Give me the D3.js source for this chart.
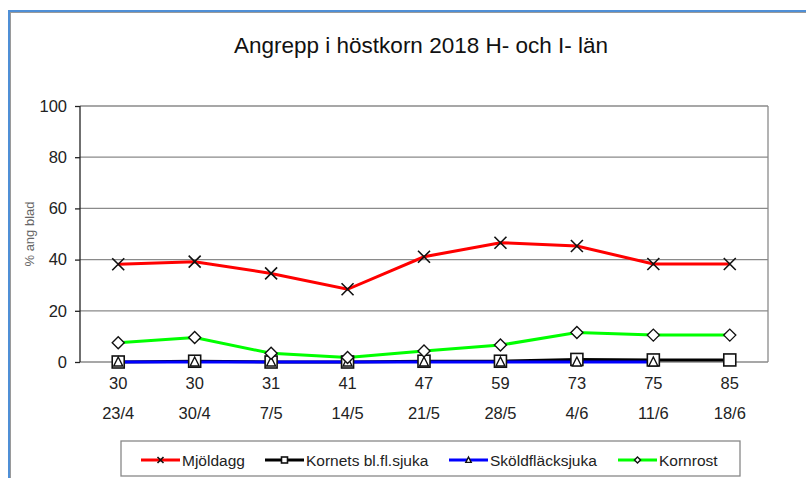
<!DOCTYPE html>
<html><head><meta charset="utf-8">
<script src="https://cdn.jsdelivr.net/npm/d3@7"></script>
<style>body{margin:0;background:#fff;}svg{display:block;font-family:"Liberation Sans",Arial,sans-serif;}</style>
</head><body>
<svg id="c" width="806" height="478"></svg>
<script>
const title = "Angrepp i höstkorn 2018 H- och I- län";
const yLabel = "% ang blad";
const stages = ["30","30","31","41","47","59","73","75","85"];
const dates = ["23/4","30/4","7/5","14/5","21/5","28/5","4/6","11/6","18/6"];
const yTicks = [0,20,40,60,80,100];
const mjoldagg = [38.2,39.2,34.6,28.4,41.1,46.6,45.3,38.3,38.3];
const kornets = [0,0.3,0,0,0.3,0.3,1,0.8,0.8];
const skold = [0,0,0,0,0,0,0,0,null];
const kornrost = [7.5,9.6,3.4,1.8,4.3,6.6,11.5,10.5,10.5];
const seriesNames = ["Mjöldagg","Kornets bl.fl.sjuka","Sköldfläcksjuka","Kornrost"];
const seriesColors = ["#ff0000","#000000","#0000ff","#00ff00"];
const seriesMarkers = ["x","square","triangle","diamond"];

const svg = d3.select("#c");
// frame
svg.append("rect").attr("x",10).attr("y",12).attr("width",800).attr("height",470).attr("fill","none").attr("stroke","#9a9a9a").attr("stroke-width",2);
svg.append("line").attr("x1",8).attr("x2",806).attr("y1",11).attr("y2",11).attr("stroke","#4f8fd6").attr("stroke-width",2);
svg.append("line").attr("x1",9).attr("x2",9).attr("y1",10).attr("y2",478).attr("stroke","#4f8fd6").attr("stroke-width",2);

const L=80,R=768,T=106,B=362;
const x = d3.scaleBand().domain(d3.range(stages.length)).range([L,R]);
const cx = i => x(i)+x.bandwidth()/2;
const y = d3.scaleLinear().domain([0,100]).range([B,T]);

svg.append("text").attr("x",421).attr("y",53).attr("text-anchor","middle").attr("font-size",22.5).attr("fill","#111").text(title);

// grid
svg.append("g").selectAll("line").data(yTicks.filter(d=>d>0)).join("line")
 .attr("x1",L).attr("x2",R).attr("y1",d=>y(d)).attr("y2",d=>y(d)).attr("stroke","#8a8a8a").attr("stroke-width",1.3);
svg.append("line").attr("x1",R).attr("x2",R).attr("y1",T).attr("y2",B).attr("stroke","#8a8a8a").attr("stroke-width",1.3);
svg.append("line").attr("x1",L).attr("x2",R).attr("y1",B).attr("y2",B).attr("stroke","#8a8a8a").attr("stroke-width",1.3);

// y axis
const ya = svg.append("g").attr("transform",`translate(${L},0)`).call(d3.axisLeft(y).tickValues(yTicks).tickSize(5).tickPadding(8));
ya.select(".domain").attr("stroke","#222").attr("stroke-width",1.3).attr("d",`M0,${T}V${B}`);
ya.selectAll(".tick line").attr("stroke","#222").attr("stroke-width",1.3);
ya.selectAll("text").attr("font-size",16.5).attr("fill","#222").attr("font-family","Liberation Sans, Arial, sans-serif");

svg.append("text").attr("transform",`translate(34,${234}) rotate(-90)`).attr("text-anchor","middle")
 .attr("font-size",13).attr("fill","#666").text(yLabel);

// x labels
const xa = svg.append("g");
xa.selectAll("text.s").data(stages).join("text").attr("class","s").attr("x",(d,i)=>cx(i)).attr("y",389)
 .attr("text-anchor","middle").attr("font-size",16.5).attr("fill","#222").text(d=>d);
xa.selectAll("text.d").data(dates).join("text").attr("class","d").attr("x",(d,i)=>cx(i)).attr("y",419)
 .attr("text-anchor","middle").attr("font-size",16.5).attr("fill","#222").text(d=>d);

function marker(g,type,px,py,s){
  if(type==="x"){
    g.append("path").attr("d",`M${px-s},${py-s}L${px+s},${py+s}M${px-s},${py+s}L${px+s},${py-s}`).attr("stroke","#111").attr("stroke-width",1.6).attr("fill","none");
  } else if(type==="square"){
    g.append("rect").attr("x",px-s).attr("y",py-s).attr("width",2*s).attr("height",2*s).attr("fill","#fff").attr("stroke","#111").attr("stroke-width",1.6);
  } else if(type==="triangle"){
    g.append("path").attr("d",`M${px},${py-s}L${px+s*0.9},${py+s*0.8}L${px-s*0.9},${py+s*0.8}Z`).attr("fill","#fff").attr("stroke","#111").attr("stroke-width",1.4);
  } else {
    g.append("path").attr("d",`M${px},${py-s}L${px+s},${py}L${px},${py+s}L${px-s},${py}Z`).attr("fill","#fff").attr("stroke","#111").attr("stroke-width",1.4);
  }
}

const allSeries = [mjoldagg,kornets,skold,kornrost];
const order = [1,2,3,0];
const line = d3.line().defined(d=>d!=null).x((d,i)=>cx(i)).y(d=>y(d));
order.forEach(k=>{
  svg.append("path").datum(allSeries[k]).attr("d",line).attr("fill","none").attr("stroke",seriesColors[k]).attr("stroke-width",3);
});
const msize = [6,6,5,6];
order.forEach(k=>{
  const g = svg.append("g");
  allSeries[k].forEach((v,i)=>{ if(v!=null) marker(g,seriesMarkers[k],cx(i),y(v),msize[k]); });
});

// legend
svg.append("rect").attr("x",121).attr("y",441).attr("width",619).attr("height",35).attr("fill","#fff").attr("stroke","#888").attr("stroke-width",1.3);
const legX = [141,265,449,618];
seriesNames.forEach((n,k)=>{
  const g = svg.append("g");
  const x0=legX[k], ly=460;
  g.append("line").attr("x1",x0).attr("x2",x0+39).attr("y1",ly).attr("y2",ly).attr("stroke",seriesColors[k]).attr("stroke-width",3);
  marker(g,seriesMarkers[k],x0+19.5,ly,3);
  g.append("text").attr("x",x0+41).attr("y",ly+5.5).attr("font-size",15.5).attr("fill","#222").text(n);
});
</script>
</body></html>
